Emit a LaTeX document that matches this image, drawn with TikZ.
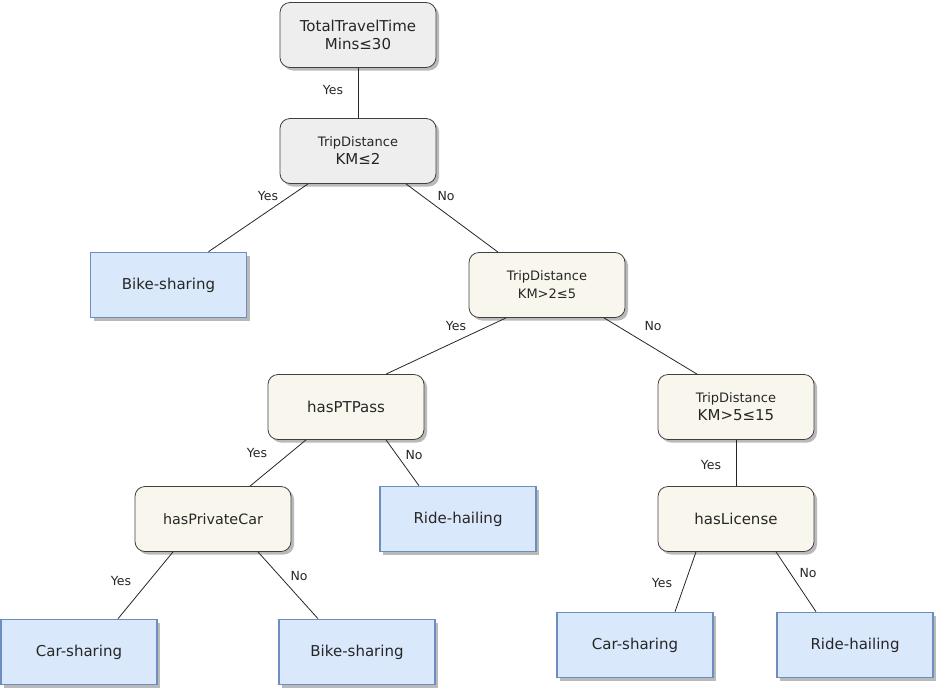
\documentclass[tikz,border=0pt]{standalone}
\usepackage{fontspec}
\setmainfont{DejaVu Sans}
\usetikzlibrary{shadows}
\definecolor{rootgray}{HTML}{EEEEEE}
\definecolor{splitcream}{HTML}{F9F7ED}
\definecolor{leafblue}{HTML}{DAE8FC}
\definecolor{leafedge}{HTML}{6C8EBF}
\tikzset{
  boxshadow/.style={drop shadow={shadow xshift=3pt, shadow yshift=-3pt, fill=black!45, opacity=0.6}},
  rootbox/.style={draw=black!75, line width=0.8pt, fill=rootgray, rounded corners=10pt,
    minimum width=156pt, minimum height=65pt, align=center, boxshadow,
    font=\fontsize{15}{18}\selectfont, text=black!85},
  splitbox/.style={rootbox, fill=splitcream},
  leafbox/.style={draw=leafedge, line width=1.6pt, fill=leafblue,
    minimum width=156pt, minimum height=65pt, align=center, boxshadow,
    font=\fontsize{15}{18}\selectfont, text=black!85},
  edgetxt/.style={font=\fontsize{12.5}{14}\selectfont, text=black!85, inner sep=0pt},
  branch/.style={draw=black!85, line width=0.8pt}
}
\newcommand{\smallline}{\fontsize{13}{16}\selectfont}
\newcommand{\edgelabel}[4]{\node[edgetxt] (#1) at ( #2 , #3 ) {#4};}

\begin{document}
\begin{tikzpicture}[x=1pt, y=-1pt]
        \useasboundingbox (0,0) rectangle (936,691);
        % level 0
        \node[rootbox] (root) at (358,35) {TotalTravelTime\\ Mins≤30};
        % level 1
        \node[rootbox] (td1) at (358,151) {{\smallline TripDistance}\\ KM≤2};
        % level 2
        \node[leafbox] (bike1) at (168.5,285) {Bike-sharing};
        \node[splitbox] (td2) at (547,285) {{\smallline TripDistance}\\ {\smallline KM>2≤5}};
        % level 3
        \node[splitbox] (pass) at (346,407) {hasPTPass};
        \node[splitbox] (td3) at (736,407) {{\smallline TripDistance}\\ KM>5≤15};
        % level 4
        \node[splitbox, font=\fontsize{14.3}{17}\selectfont] (car) at (213,519) {hasPrivateCar};
        \node[leafbox] (ride1) at (458,519) {Ride-hailing};
        \node[splitbox] (lic) at (736,519) {hasLicense};
        % level 5
        \node[leafbox] (car1) at (79,652) {Car-sharing};
        \node[leafbox] (bike2) at (357,652) {Bike-sharing};
        \node[leafbox] (car2) at (635,645) {Car-sharing};
        \node[leafbox] (ride2) at (855,645) {Ride-hailing};

        % branches
        \draw[branch] (root.south) -- (td1.north);
        \draw[branch] ([xshift=-50pt]td1.south) -- ([xshift=40pt]bike1.north);
        \draw[branch] ([xshift=48pt]td1.south) -- ([xshift=-49pt]td2.north);
        \draw[branch] ([xshift=-41pt]td2.south) -- ([xshift=40pt]pass.north);
        \draw[branch] ([xshift=57pt]td2.south) -- ([xshift=-39pt]td3.north);
        \draw[branch] ([xshift=-40pt]pass.south) -- ([xshift=37pt]car.north);
        \draw[branch] ([xshift=40pt]pass.south) -- ([xshift=-39pt]ride1.north);
        \draw[branch] (td3.south) -- (lic.north);
        \draw[branch] ([xshift=-40pt]car.south) -- ([xshift=39pt]car1.north);
        \draw[branch] ([xshift=45pt]car.south) -- ([xshift=-39pt]bike2.north);
        \draw[branch] ([xshift=-40pt]lic.south) -- ([xshift=40pt]car2.north);
        \draw[branch] ([xshift=40pt]lic.south) -- ([xshift=-39pt]ride2.north);

        % labels
        \edgelabel{y1}{333}{90}{Yes}
        \edgelabel{y2}{268}{196}{Yes}
        \edgelabel{n2}{446}{196}{No}
        \edgelabel{y3}{456}{326}{Yes}
        \edgelabel{n3}{653}{326}{No}
        \edgelabel{y4}{257}{453}{Yes}
        \edgelabel{n4}{414}{455}{No}
        \edgelabel{y5}{711}{465}{Yes}
        \edgelabel{y6}{121}{581}{Yes}
        \edgelabel{n6}{299}{576}{No}
        \edgelabel{y7}{662}{583}{Yes}
        \edgelabel{n7}{808}{573}{No}
\end{tikzpicture}
\end{document}
